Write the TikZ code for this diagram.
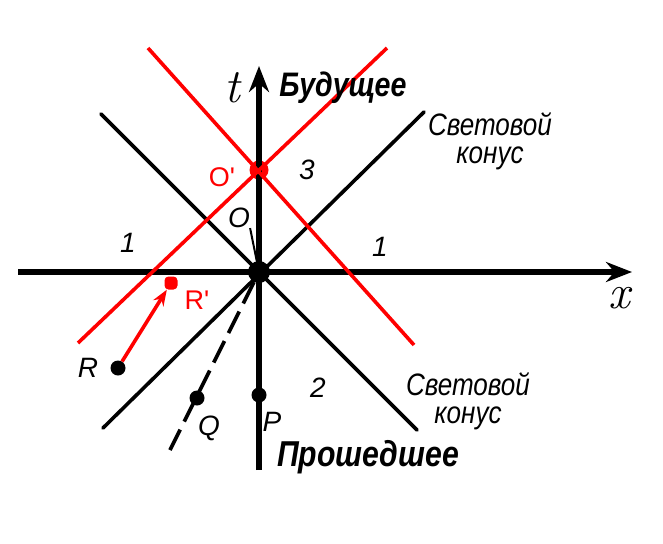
\documentclass[tikz,border=0pt]{standalone}
\usepackage{fontspec}
\newfontfamily\drawfont{Liberation Sans}
\newfontfamily\narrowfont[FakeStretch=0.84]{Liberation Sans}
\usetikzlibrary{arrows.meta, positioning}
\definecolor{shiftred}{HTML}{FF0000}

\begin{document}
\begin{tikzpicture}[x=1pt, y=-1pt,
  axis/.style={line width=6pt, draw=black},
  cone/.style={line width=3.6pt, draw=black, line cap=round},
  shifted/.style={line width=3.6pt, draw=shiftred},
  event/.style={circle, fill=black, inner sep=0pt, minimum size=15pt},
  redevent/.style={circle, fill=shiftred, inner sep=0pt, minimum size=19pt},
  lbl/.style={font=\drawfont\itshape\fontsize{28}{30}\selectfont, inner sep=0pt},
  biglbl/.style={font=\narrowfont\bfseries\itshape\fontsize{34}{36}\selectfont, inner sep=0pt},
  conelbl/.style={font=\narrowfont\itshape\fontsize{31}{28}\selectfont, inner sep=0pt, align=center},
  redlbl/.style={font=\drawfont\fontsize{27}{29}\selectfont, text=shiftred, inner sep=0pt},
  axlbl/.style={font=\rmfamily\itshape\fontsize{48}{50}\selectfont, inner sep=0pt}
]
  \useasboundingbox (0,0) rectangle (663,543);

  % end points of axes and cones
  \coordinate (xl) at (18,272);
  \coordinate (xr) at (632,272);
  \coordinate (tb) at (259,470);
  \coordinate (tt) at (259,66);
  \coordinate (ca1) at (101,114);
  \coordinate (ca2) at (417,430);
  \coordinate (cb1) at (103,428);
  \coordinate (cb2) at (424,112);
  \coordinate (qend) at (170,450);
  \coordinate (ra1) at (78,343);
  \coordinate (ra2) at (387,48);
  \coordinate (rb1) at (148,48);
  \coordinate (rb2) at (414,345);

  % events
  \node[event, minimum size=22pt] (O) at (259,272) {};
  \node[event] (P) at (259,395) {};
  \node[event] (Q) at (197,398) {};
  \node[event] (R) at (118,368) {};
  \node[redevent] (Op) at (259,170) {};
  \node[rectangle, rounded corners=4pt, fill=shiftred, minimum size=13pt, inner sep=0pt] (Rp) at (171,283) {};

  % axes and light cone
  \draw[axis, -{Stealth[length=26pt, width=20pt]}] (xl) -- (xr);
  \draw[axis, -{Stealth[length=26pt, width=20pt]}] (tb) -- (tt);
  \draw[cone] (ca1) -- (ca2);
  \draw[cone] (cb1) -- (cb2);
  \draw[cone, line cap=butt, dash pattern=on 24pt off 9pt] (O) -- (qend);

  % shifted cone
  \draw[shifted] (ra1) -- (ra2);
  \draw[shifted] (rb1) -- (rb2);
  \draw[shifted, -{Stealth[length=16pt, width=12pt]}] (R) -- (Rp);

  % labels
  \node[axlbl] (tlbl) at (232,88) {t};
  \node[axlbl] (xlbl) at (619,298) {x};
  \node[biglbl] (fut) at (343,88) {Будущее};
  \node[biglbl, font=\narrowfont\bfseries\itshape\fontsize{36}{38}\selectfont] (past) at (368,457) {Прошедшее};
  \node[conelbl] (cup) at (490,141) {Световой\\конус};
  \node[conelbl] (cdn) at (468,401) {Световой\\конус};
  \node[lbl] (n3) at (307,170) {3};
  \node[lbl] (n1a) at (128,243) {1};
  \node[lbl] (n1b) at (380,247) {1};
  \node[lbl] (n2) at (318,388) {2};
  \node[lbl] (Olbl) at (239,218) {O};
  \node[lbl] (Rlbl) at (88,368) {R};
  \node[lbl] (Qlbl) at (209,428) {Q};
  \node[lbl] (Plbl) at (272,422) {P};
  \node[redlbl] (Oplbl) at (222,177) {O'};
  \node[redlbl] (Rplbl) at (197,300) {R'};
  \draw[line width=2pt] (Olbl.south east) -- (O);
\end{tikzpicture}
\end{document}
